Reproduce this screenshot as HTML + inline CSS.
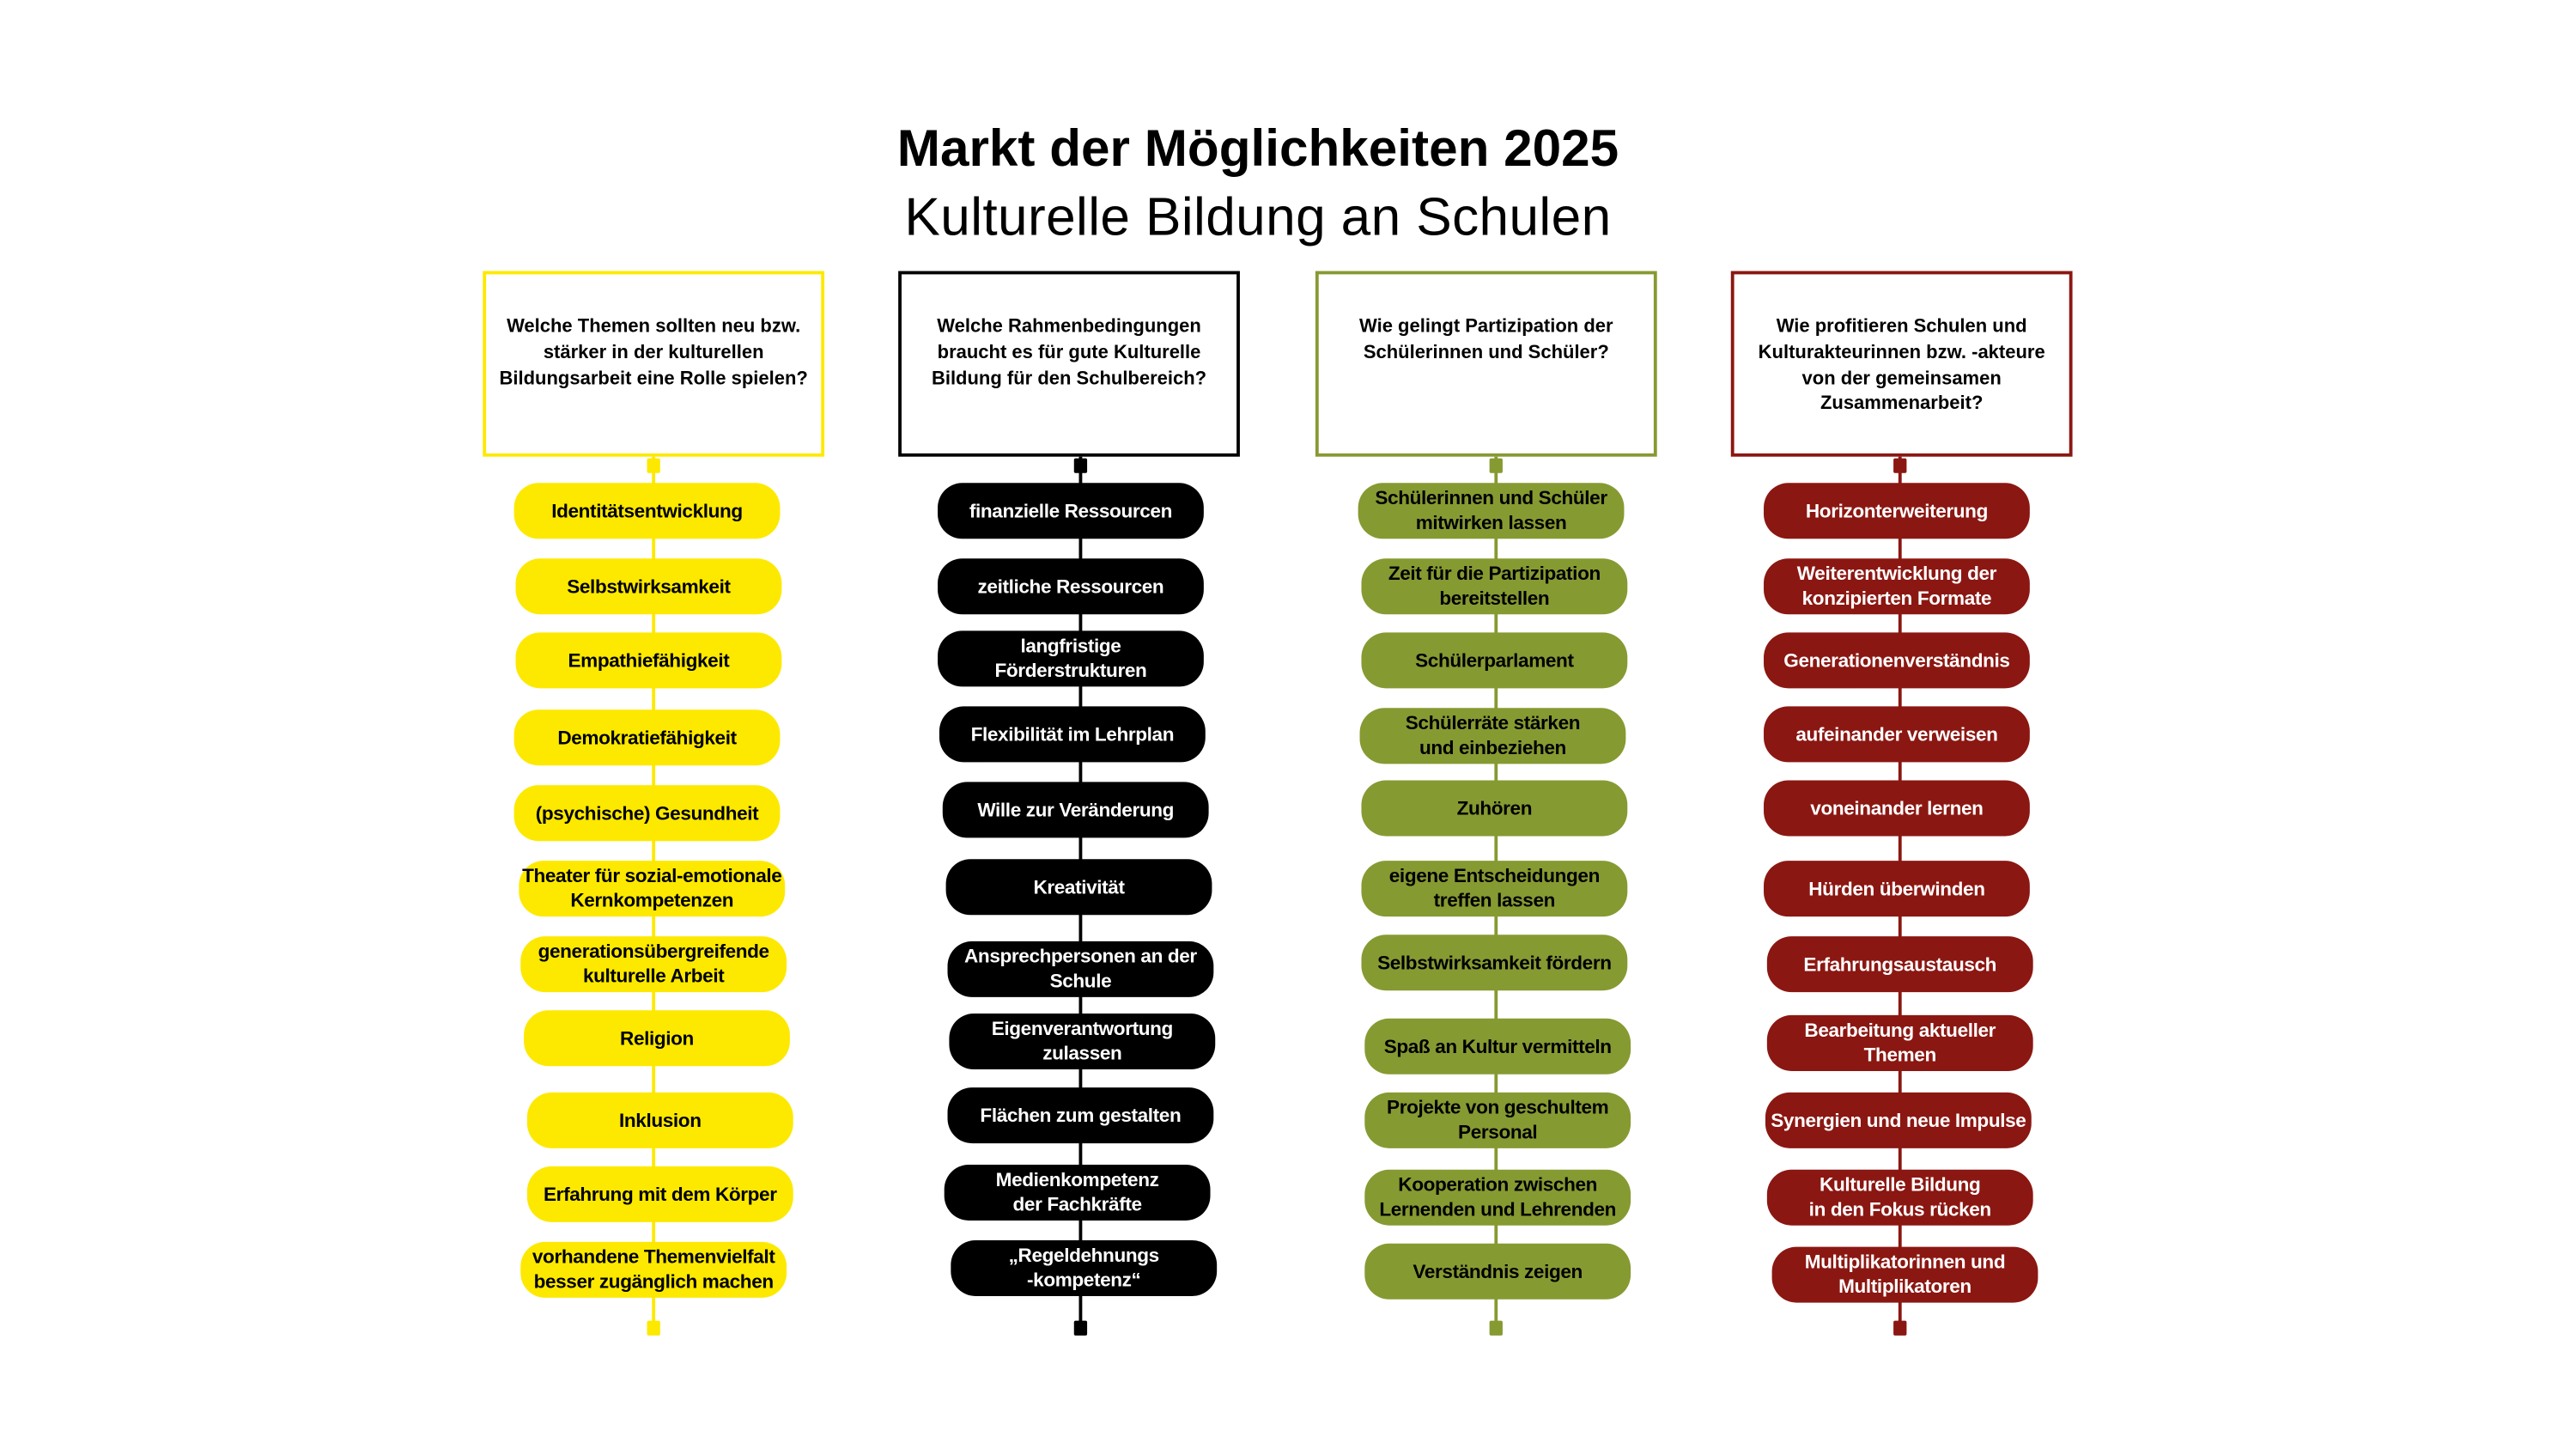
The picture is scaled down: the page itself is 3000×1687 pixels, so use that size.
<!DOCTYPE html>
<html><head><meta charset="utf-8"><style>
html,body{margin:0;padding:0;background:#fff;}
body{width:3000px;height:1687px;overflow:hidden;position:relative;}
#w{position:absolute;left:0;top:0;width:1570px;height:882px;transform:scale(1.9125);transform-origin:0 0;font-family:"Liberation Sans",sans-serif;}
.t1{position:absolute;left:0;width:1532px;text-align:center;top:72px;font-size:31.5px;font-weight:bold;letter-spacing:0px;}
.t2{position:absolute;left:0;width:1532px;text-align:center;top:114px;font-size:32.5px;letter-spacing:0.2px;}
.box{position:absolute;top:165px;width:204px;height:109px;border:2px solid;background:#fff;box-sizing:content-box;font-size:11.5px;font-weight:bold;line-height:15.8px;text-align:center;padding-top:0;}
.box div{margin-top:25px;padding:0 6px;}
.ln{position:absolute;width:2px;top:278px;height:530px;}
.sq{position:absolute;width:8px;height:9px;border-radius:1px;}
.p{position:absolute;width:162px;height:34px;border-radius:15px;display:flex;align-items:center;justify-content:center;text-align:center;font-size:11.8px;font-weight:bold;line-height:15px;letter-spacing:-0.2px;}
.y{background:#fde900;color:#000}.k{background:#000;color:#fff}.g{background:#869a32;color:#000}.r{background:#8b1712;color:#fff}
</style></head><body><div id="w">
<div class="t1">Markt der Möglichkeiten 2025</div>
<div class="t2">Kulturelle Bildung an Schulen</div>

<div class="box" style="left:294px;border-color:#fde900"><div>Welche Themen sollten neu bzw. stärker in der kulturellen Bildungsarbeit eine Rolle spielen?</div></div>
<div class="box" style="left:547px;border-color:#000"><div>Welche Rahmenbedingungen braucht es für gute Kulturelle Bildung für den Schulbereich?</div></div>
<div class="box" style="left:801px;border-color:#869a32"><div>Wie gelingt Partizipation der Schülerinnen und Schüler?</div></div>
<div class="box" style="left:1054px;border-color:#8b1712"><div>Wie profitieren Schulen und Kulturakteurinnen bzw. -akteure von der gemeinsamen Zusammenarbeit?</div></div>

<div class="ln" style="left:397px;background:#fde900"></div>
<div class="ln" style="left:657px;background:#000"></div>
<div class="ln" style="left:910px;background:#869a32"></div>
<div class="ln" style="left:1156px;background:#8b1712"></div>
<div class="sq" style="left:394px;top:279px;background:#fde900"></div><div class="sq" style="left:394px;top:804px;background:#fde900"></div>
<div class="sq" style="left:654px;top:279px;background:#000"></div><div class="sq" style="left:654px;top:804px;background:#000"></div>
<div class="sq" style="left:907px;top:279px;background:#869a32"></div><div class="sq" style="left:907px;top:804px;background:#869a32"></div>
<div class="sq" style="left:1153px;top:279px;background:#8b1712"></div><div class="sq" style="left:1153px;top:804px;background:#8b1712"></div>

<div class="p y" style="left:313px;top:294px">Identitätsentwicklung</div>
<div class="p y" style="left:314px;top:340px">Selbstwirksamkeit</div>
<div class="p y" style="left:314px;top:385px">Empathiefähigkeit</div>
<div class="p y" style="left:313px;top:432px">Demokratiefähigkeit</div>
<div class="p y" style="left:313px;top:478px">(psychische) Gesundheit</div>
<div class="p y" style="left:316px;top:524px">Theater für sozial-emotionale Kernkompetenzen</div>
<div class="p y" style="left:317px;top:570px">generationsübergreifende<br>kulturelle Arbeit</div>
<div class="p y" style="left:319px;top:615px">Religion</div>
<div class="p y" style="left:321px;top:665px">Inklusion</div>
<div class="p y" style="left:321px;top:710px">Erfahrung mit dem Körper</div>
<div class="p y" style="left:317px;top:756px">vorhandene Themenvielfalt<br>besser zugänglich machen</div>

<div class="p k" style="left:571px;top:294px">finanzielle Ressourcen</div>
<div class="p k" style="left:571px;top:340px">zeitliche Ressourcen</div>
<div class="p k" style="left:571px;top:384px">langfristige<br>Förderstrukturen</div>
<div class="p k" style="left:572px;top:430px">Flexibilität im Lehrplan</div>
<div class="p k" style="left:574px;top:476px">Wille zur Veränderung</div>
<div class="p k" style="left:576px;top:523px">Kreativität</div>
<div class="p k" style="left:577px;top:573px">Ansprechpersonen an der Schule</div>
<div class="p k" style="left:578px;top:617px">Eigenverantwortung<br>zulassen</div>
<div class="p k" style="left:577px;top:662px">Flächen zum gestalten</div>
<div class="p k" style="left:575px;top:709px">Medienkompetenz<br>der Fachkräfte</div>
<div class="p k" style="left:579px;top:755px">„Regeldehnungs<br>-kompetenz“</div>

<div class="p g" style="left:827px;top:294px">Schülerinnen und Schüler<br>mitwirken lassen</div>
<div class="p g" style="left:829px;top:340px">Zeit für die Partizipation<br>bereitstellen</div>
<div class="p g" style="left:829px;top:385px">Schülerparlament</div>
<div class="p g" style="left:828px;top:431px">Schülerräte stärken<br>und einbeziehen</div>
<div class="p g" style="left:829px;top:475px">Zuhören</div>
<div class="p g" style="left:829px;top:524px">eigene Entscheidungen<br>treffen lassen</div>
<div class="p g" style="left:829px;top:569px">Selbstwirksamkeit fördern</div>
<div class="p g" style="left:831px;top:620px">Spaß an Kultur vermitteln</div>
<div class="p g" style="left:831px;top:665px">Projekte von geschultem<br>Personal</div>
<div class="p g" style="left:831px;top:712px">Kooperation zwischen<br>Lernenden und Lehrenden</div>
<div class="p g" style="left:831px;top:757px">Verständnis zeigen</div>

<div class="p r" style="left:1074px;top:294px">Horizonterweiterung</div>
<div class="p r" style="left:1074px;top:340px">Weiterentwicklung der<br>konzipierten Formate</div>
<div class="p r" style="left:1074px;top:385px">Generationenverständnis</div>
<div class="p r" style="left:1074px;top:430px">aufeinander verweisen</div>
<div class="p r" style="left:1074px;top:475px">voneinander lernen</div>
<div class="p r" style="left:1074px;top:524px">Hürden überwinden</div>
<div class="p r" style="left:1076px;top:570px">Erfahrungsaustausch</div>
<div class="p r" style="left:1076px;top:618px">Bearbeitung aktueller<br>Themen</div>
<div class="p r" style="left:1075px;top:665px">Synergien und neue Impulse</div>
<div class="p r" style="left:1076px;top:712px">Kulturelle Bildung<br>in den Fokus rücken</div>
<div class="p r" style="left:1079px;top:759px">Multiplikatorinnen und<br>Multiplikatoren</div>
</div></body></html>
